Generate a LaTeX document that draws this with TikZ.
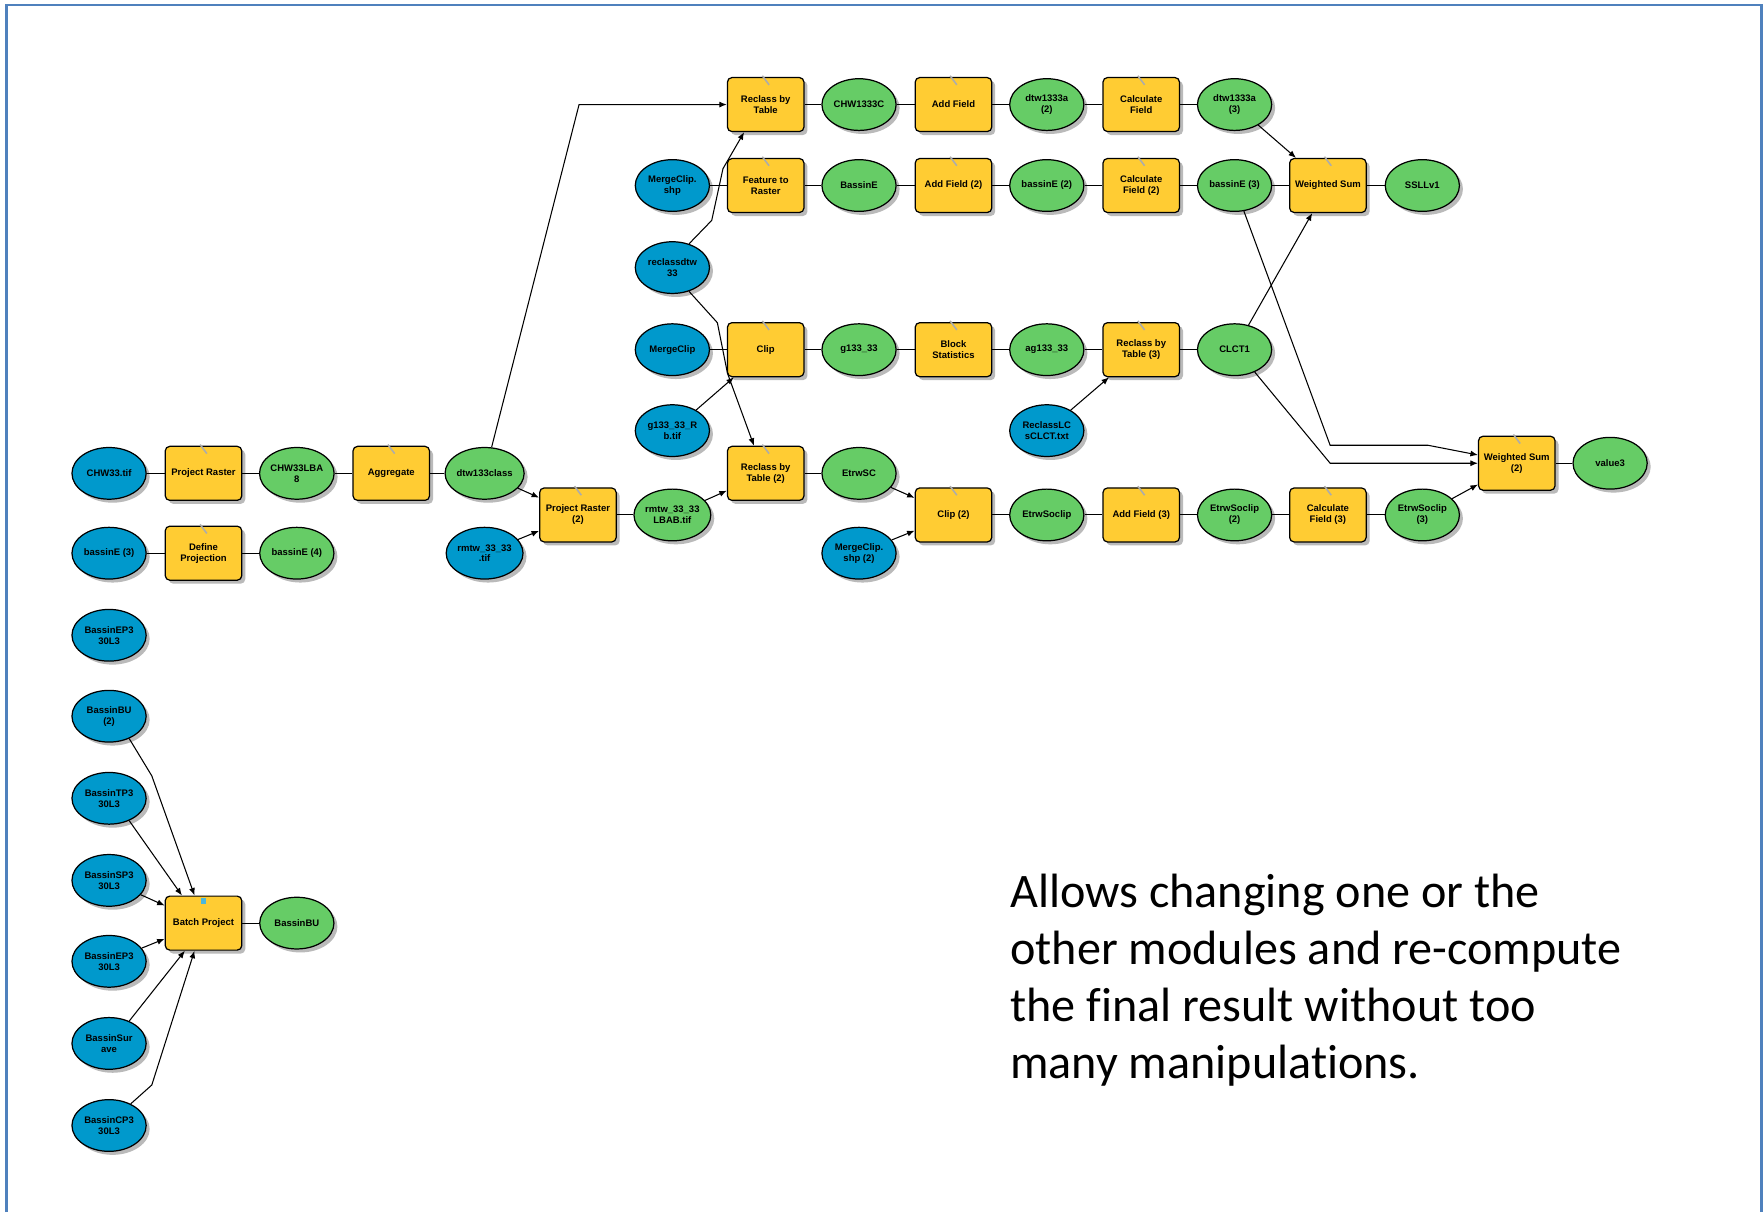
\documentclass[tikz,border=0pt]{standalone}
\usepackage{fontspec}
\setmainfont{Liberation Sans}
\newfontfamily\notefont[Ligatures=NoCommon]{Carlito}
\usetikzlibrary{shapes.geometric,shadows,arrows.meta}
\definecolor{inblue}{RGB}{0,153,204}
\definecolor{outgreen}{RGB}{102,204,102}
\definecolor{toolyellow}{RGB}{255,204,51}
\definecolor{framecol}{RGB}{79,129,189}
\begin{document}
\begin{tikzpicture}[x=0.112436mm,y=-0.112436mm,
  base/.style={draw=black,line width=0.35pt,inner sep=0pt,align=center,
    font=\fontsize{2.7}{3.1}\selectfont\bfseries,
    drop shadow={shadow xshift=0.35mm,shadow yshift=-0.35mm,fill=black!45,opacity=0.6}},
  inp/.style={base,ellipse,fill=inblue,minimum width=7.42mm,minimum height=5.17mm},
  outp/.style={base,ellipse,fill=outgreen,minimum width=7.42mm,minimum height=5.17mm},
  tool/.style={base,rectangle,rounded corners=0.45mm,fill=toolyellow,minimum width=7.65mm,minimum height=5.4mm},
  link/.style={draw=black,line width=0.3pt},
  arr/.style={link,-{Latex[length=0.75mm,width=0.6mm]}},
  icon/.style={draw=gray!65,line width=0.45pt}]
\useasboundingbox (0,0) rectangle (1568,1078);
\fill[white] (0,0) rectangle (1568,1078);
\draw[framecol,line width=0.25mm] (6,1078) -- (6,4.5) -- (1566.5,4.5) -- (1566.5,1078);

% ---- top chain: reclass of depth to water
\node[tool] (rbt1) at (681,93) {Reclass by\\Table};
\node[outp] (chwc) at (764,93) {CHW1333C};
\node[tool] (af1) at (848,93) {Add Field};
\node[outp] (dtwa2) at (931,93) {dtw1333a\\(2)};
\node[tool] (cf1) at (1015,93) {Calculate\\Field};
\node[outp] (dtwa3) at (1098,93) {dtw1333a\\(3)};

% ---- basin chain
\node[inp] (mcs) at (598,165) {MergeClip.\\shp};
\node[tool] (ftr) at (681,165) {Feature to\\Raster};
\node[outp] (bsn) at (764,165) {BassinE};
\node[tool] (af2) at (848,165) {Add Field (2)};
\node[outp] (bse2) at (931,165) {bassinE (2)};
\node[tool] (cf2) at (1015,165) {Calculate\\Field (2)};
\node[outp] (bse3) at (1098,165) {bassinE (3)};
\node[tool] (ws) at (1181,165) {Weighted Sum};
\node[outp] (ssl) at (1265,165) {SSLLv1};

\node[inp] (rcd) at (598,238) {reclassdtw\\33};

% ---- land cover chain
\node[inp] (mc) at (598,311) {MergeClip};
\node[tool] (clip) at (681,311) {Clip};
\node[outp] (g133) at (764,311) {g133\_33};
\node[tool] (bst) at (848,311) {Block\\Statistics};
\node[outp] (ag133) at (931,311) {ag133\_33};
\node[tool] (rbt3) at (1015,311) {Reclass by\\Table (3)};
\node[outp] (clct) at (1098,311) {CLCT1};

\node[inp] (grb) at (598,383) {g133\_33\_R\\b.tif};
\node[inp] (rlc) at (931,383) {ReclassLC\\sCLCT.txt};

% ---- depth to water preparation
\node[inp] (chw) at (97,421) {CHW33.tif};
\node[tool] (pr1) at (181,421) {Project Raster};
\node[outp] (chwl) at (264,421) {CHW33LBA\\8};
\node[tool] (agg) at (348,421) {Aggregate};
\node[outp] (dtwc) at (431,421) {dtw133class};
\node[tool] (rbt2) at (681,421) {Reclass by\\Table (2)};
\node[outp] (esc) at (764,421) {EtrwSC};

\node[tool] (ws2) at (1349,412) {Weighted Sum\\(2)};
\node[outp] (val) at (1432,412) {value3};

\node[tool] (pr2) at (514,458) {Project Raster\\(2)};
\node[outp] (rlb) at (598,458) {rmtw\_33\_33\\LBAB.tif};
\node[tool] (clip2) at (848,458) {Clip (2)};
\node[outp] (es1) at (931,458) {EtrwSoclip};
\node[tool] (af3) at (1015,458) {Add Field (3)};
\node[outp] (es2) at (1098,458) {EtrwSoclip\\(2)};
\node[tool] (cf3) at (1181,458) {Calculate\\Field (3)};
\node[outp] (es3) at (1265,458) {EtrwSoclip\\(3)};

\node[inp] (bsa) at (97,492) {bassinE (3)};
\node[tool] (dp) at (181,492) {Define\\Projection};
\node[outp] (bsb) at (264,492) {bassinE (4)};
\node[inp] (rtif) at (431,492) {rmtw\_33\_33\\.tif};
\node[inp] (mcs2) at (764,492) {MergeClip.\\shp (2)};

% ---- batch projection of basins
\node[inp] (bl1) at (97,565) {BassinEP3\\30L3};
\node[inp] (bl2) at (97,637) {BassinBU\\(2)};
\node[inp] (bl3) at (97,710) {BassinTP3\\30L3};
\node[inp] (bl4) at (97,783) {BassinSP3\\30L3};
\node[inp] (bl5) at (97,855) {BassinEP3\\30L3};
\node[inp] (bl6) at (97,928) {BassinSur\\ave};
\node[inp] (bl7) at (97,1001) {BassinCP3\\30L3};
\node[tool] (bp) at (181,821) {Batch Project};
\node[outp] (bbu) at (264,821) {BassinBU};

% tool icons
\foreach \n in {rbt1,af1,cf1,ftr,af2,cf2,ws,clip,bst,rbt3,pr1,agg,rbt2,ws2,pr2,clip2,af3,cf3,dp}
  \draw[icon] (\n.north) ++(-3,-1) -- ++(6,8);
\fill[inblue!70] (bp.north) ++(-2,2) rectangle ++(4,6);

% straight links
\foreach \a/\b in {chw/pr1,pr1/chwl,chwl/agg,agg/dtwc,bsa/dp,dp/bsb,pr2/rlb,rbt2/esc,
  clip2/es1,es1/af3,af3/es2,es2/cf3,cf3/es3,ws2/val,rbt1/chwc,chwc/af1,af1/dtwa2,
  dtwa2/cf1,cf1/dtwa3,mcs/ftr,ftr/bsn,bsn/af2,af2/bse2,bse2/cf2,cf2/bse3,bse3/ws,
  ws/ssl,mc/clip,clip/g133,g133/bst,bst/ag133,ag133/rbt3,rbt3/clct,bp/bbu}
  \draw[link] (\a) -- (\b);

% inputs with arrows
\foreach \a/\b in {dtwc/pr2,rtif/pr2,rlb/rbt2,grb/clip,rlc/rbt3,esc/clip2,mcs2/clip2,
  es3/ws2,dtwa3/ws,clct/ws,bl4/bp,bl5/bp}
  \draw[arr] (\a) -- (\b);

% routed connections
\coordinate (k1) at (515,93);
\draw[arr] (dtwc.75) -- (k1) -- (rbt1.west);
\coordinate (k2) at (633,196);
\coordinate (k3) at (643,150);
\draw[arr] (rcd.55) -- (k2) -- (k3) -- (rbt1.-128);
\coordinate (k4) at (638,287);
\coordinate (k5) at (647,332);
\draw[arr] (rcd.-55) -- (k4) -- (k5) -- (rbt2.113);
\coordinate (k6) at (1183,396);
\coordinate (k7) at (1270,396);
\draw[arr] (bse3.-70) -- (k6) -- (k7) -- (ws2.168);
\coordinate (k8) at (1183,412);
\draw[arr] (clct.-48) -- (k8) -- (ws2.west);
\coordinate (k9) at (135,690);
\draw[arr] (bl2.-48) -- (k9) -- (bp.108);
\draw[arr] (bl3.-48) -- (bp.128);
\draw[arr] (bl6.48) -- (bp.-124);
\coordinate (k10) at (135,965);
\draw[arr] (bl7.45) -- (k10) -- (bp.-108);

% note
\node[anchor=north west,align=left,inner sep=0pt,
  font=\notefont\fontsize{13.7}{16.2}\selectfont] (note) at (898,777)
  {Allows changing one or the\\other modules and re-compute\\the final result without too\\many manipulations.};
\end{tikzpicture}
\end{document}
